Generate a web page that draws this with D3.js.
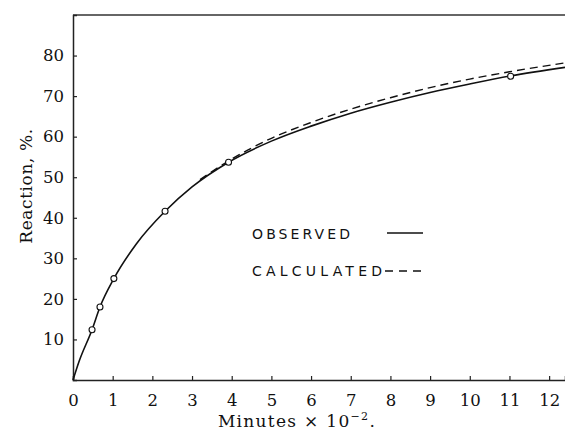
<!DOCTYPE html>
<html>
<head>
<meta charset="utf-8">
<script src="https://cdn.jsdelivr.net/npm/d3@7"></script>
<style>
  body { margin: 0; background: #fff; }
  svg { display: block; }
</style>
</head>
<body>
<svg width="565" height="441"></svg>
<script>
var svg = d3.select("svg");

// Data
var pointMinutes = [0.48, 0.68, 1.03, 2.32, 3.92, 11.03];
var pointReaction = [12.4, 18.0, 25.0, 41.6, 53.7, 74.9];

var observedMinutes = [0, 0.15, 0.48, 0.68, 1.03, 1.6, 2.32, 3.0, 3.92, 5, 6, 7, 8, 9, 10, 11.03, 12.4];
var observedReaction = [0, 4.5, 12.4, 18.0, 25.0, 33.6, 41.6, 47.6, 53.7, 58.9, 62.6, 65.8, 68.5, 70.9, 73.0, 75.0, 77.1];

var calcMinutes = [3.2, 3.92, 5, 6, 7, 8, 9, 10, 11, 12.4];
var calcReaction = [49.4, 54.0, 59.6, 63.5, 66.8, 69.6, 72.1, 74.2, 76.0, 78.2];

var xTicks = [0, 1, 2, 3, 4, 5, 6, 7, 8, 9, 10, 11, 12];
var yTicks = [10, 20, 30, 40, 50, 60, 70, 80];

var serif = "DejaVu Serif, Liberation Serif, serif";
var sans = "DejaVu Sans, Liberation Sans, sans-serif";

// Scales
var x = d3.scaleLinear().domain([0, 12.4]).range([73, 565]);
var y = d3.scaleLinear().domain([0, 90]).range([380, 15]);

// Frame: top line, left and bottom axes
svg.append("line")
    .attr("x1", x(0)).attr("x2", 565)
    .attr("y1", y(90)).attr("y2", y(90))
    .attr("stroke", "#333").attr("stroke-width", 1.5);

var xAxis = d3.axisBottom(x).tickValues(xTicks).tickSize(-4).tickPadding(14)
    .tickFormat(d3.format("d"));
var yAxis = d3.axisLeft(y).tickValues(yTicks).tickSize(-4).tickPadding(9)
    .tickFormat(d3.format("d"));

var gx = svg.append("g").attr("transform", "translate(0," + y(0) + ")").call(xAxis);
var gy = svg.append("g").attr("transform", "translate(" + x(0) + ",0)").call(yAxis);

[gx, gy].forEach(function(g) {
    g.attr("font-family", serif).attr("font-size", 16);
    g.select(".domain").attr("stroke", "#222").attr("stroke-width", 1.5);
    g.selectAll(".tick line").attr("stroke", "#222").attr("stroke-width", 1.2);
    g.selectAll(".tick text")
        .style("font-family", serif)
        .style("font-size", "16.5px")
        .attr("fill", "#111");
});

// Curves
var line = d3.line()
    .x(function(d) { return x(d[0]); })
    .y(function(d) { return y(d[1]); })
    .curve(d3.curveMonotoneX);

var observed = observedMinutes.map(function(m, i) { return [m, observedReaction[i]]; });
var calculated = calcMinutes.map(function(m, i) { return [m, calcReaction[i]]; });

svg.append("path")
    .datum(calculated)
    .attr("d", line)
    .attr("fill", "none")
    .attr("stroke", "#111")
    .attr("stroke-width", 1.4)
    .attr("stroke-dasharray", "8,5");

svg.append("path")
    .datum(observed)
    .attr("d", line)
    .attr("fill", "none")
    .attr("stroke", "#111")
    .attr("stroke-width", 1.6);

// Observed points
svg.selectAll("circle.pt")
    .data(pointMinutes)
    .enter().append("circle")
    .attr("class", "pt")
    .attr("cx", function(d) { return x(d); })
    .attr("cy", function(d, i) { return y(pointReaction[i]); })
    .attr("r", 3)
    .attr("fill", "#fff")
    .attr("stroke", "#111")
    .attr("stroke-width", 1.1);

// Legend
svg.append("text")
    .attr("x", 252).attr("y", 238.5)
    .style("font-family", sans).style("font-size", "14px")
    .attr("textLength", 98).attr("lengthAdjust", "spacing")
    .attr("fill", "#111")
    .text("OBSERVED");
svg.append("line")
    .attr("x1", 387).attr("x2", 423).attr("y1", 233).attr("y2", 233)
    .attr("stroke", "#111").attr("stroke-width", 1.6);

svg.append("text")
    .attr("x", 252).attr("y", 276)
    .style("font-family", sans).style("font-size", "14px")
    .attr("textLength", 130).attr("lengthAdjust", "spacing")
    .attr("fill", "#111")
    .text("CALCULATED");
svg.append("line")
    .attr("x1", 385).attr("x2", 421).attr("y1", 271).attr("y2", 271)
    .attr("stroke", "#111").attr("stroke-width", 1.5)
    .attr("stroke-dasharray", "8,6");

// Axis titles
var xt = svg.append("text")
    .attr("x", 297).attr("y", 427)
    .attr("text-anchor", "middle")
    .style("font-family", serif).style("font-size", "17px")
    .style("letter-spacing", "1.3px")
    .attr("fill", "#111");
xt.append("tspan").text("Minutes \u00d7 10");
xt.append("tspan").attr("dy", -7).style("font-size", "11px").text("\u22122");
xt.append("tspan").attr("dy", 7).text(".");

svg.append("text")
    .attr("transform", "translate(32,186) rotate(-90)")
    .attr("text-anchor", "middle")
    .style("font-family", serif).style("font-size", "17px")
    .style("letter-spacing", "0.6px")
    .attr("fill", "#111")
    .text("Reaction, %.");
</script>
</body>
</html>
